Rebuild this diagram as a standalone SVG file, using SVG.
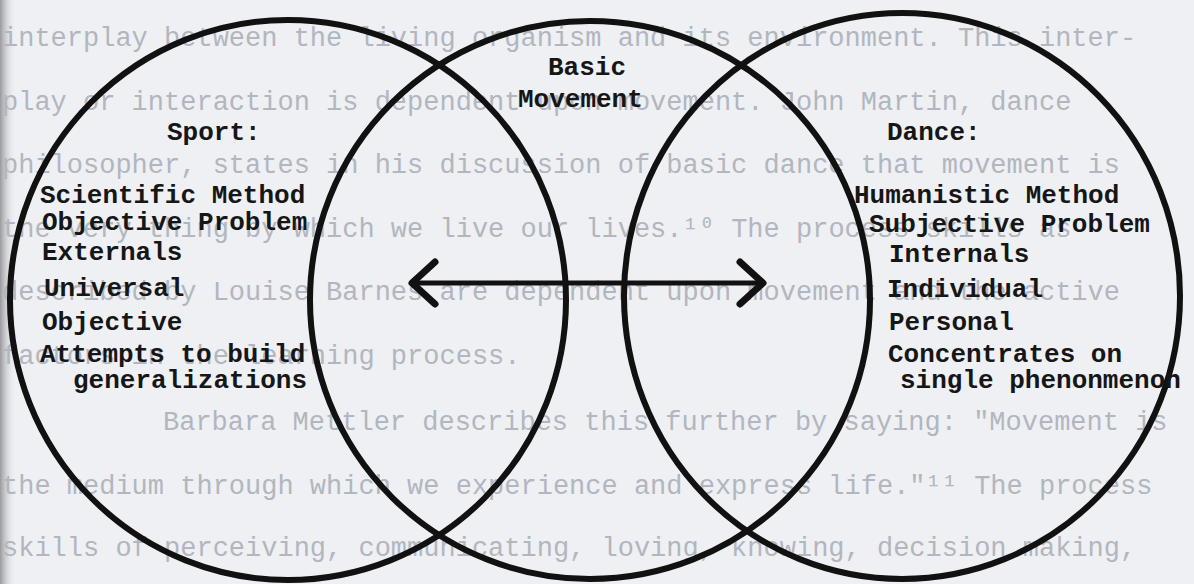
<svg xmlns="http://www.w3.org/2000/svg" width="1194" height="584" viewBox="0 0 1194 584">
<defs>
<linearGradient id="edge" x1="0" y1="0" x2="1" y2="0">
<stop offset="0" stop-color="#9a9a9e"/>
<stop offset="1" stop-color="#eef0f4" stop-opacity="0"/>
</linearGradient>
<marker id="chev" markerUnits="userSpaceOnUse" markerWidth="40" markerHeight="50" viewBox="-30 -25 40 50" refX="0" refY="0" orient="auto-start-reverse" overflow="visible">
<path d="M-23,-21 L0,0 L-23,21" fill="none" stroke="#111" stroke-width="7" stroke-linecap="round" stroke-linejoin="round"/>
</marker>
<style>
.page{font-family:"Liberation Mono",monospace;font-size:27px;fill:#b2b6be;}
.lbl{font-family:"Liberation Mono",monospace;font-size:26px;font-weight:bold;fill:#161616;}
.ring{fill:none;stroke:#111;stroke-width:6;}
.arrow{fill:none;stroke:#111;stroke-width:5;}
</style>
</defs>
<rect width="1194" height="584" fill="#eef0f4"/>
<rect width="16" height="584" fill="url(#edge)"/>
<g id="page-text" class="page">
<text x="2" y="46">interplay between the living organism and its environment.  This inter-</text>
<text x="2" y="110">play or interaction is dependent upon movement.  John Martin, dance</text>
<text x="2" y="173">philosopher, states in his discussion of basic dance that movement is</text>
<text x="2" y="237">the very thing by which we live our lives.¹⁰  The process skills as</text>
<text x="2" y="300">described by Louise Barnes are dependent upon movement and the active</text>
<text x="2" y="364">factors in the learning process.</text>
<text x="163" y="430">Barbara Mettler describes this further by saying:  "Movement is</text>
<text x="2" y="494">the medium through which we experience and express life."¹¹  The process</text>
<text x="2" y="556">skills of perceiving, communicating, loving, knowing, decision making,</text>
</g>
<g id="sport">
<ellipse class="ring" cx="288" cy="300" rx="278" ry="280"/>
<text class="lbl" x="167" y="140">Sport:</text>
<text class="lbl" x="40" y="203">Scientific Method</text>
<text class="lbl" x="42" y="230">Objective Problem</text>
<text class="lbl" x="42" y="260">Externals</text>
<text class="lbl" x="44" y="296">Universal</text>
<text class="lbl" x="42" y="330">Objective</text>
<text class="lbl" x="40" y="362">Attempts to build</text>
<text class="lbl" x="73" y="388">generalizations</text>
</g>
<g id="basic-movement">
<ellipse class="ring" cx="590" cy="300" rx="280" ry="279"/>
<text class="lbl" x="548" y="75">Basic</text>
<text class="lbl" x="518" y="107">Movement</text>
</g>
<g id="dance">
<ellipse class="ring" cx="902" cy="296" rx="278" ry="283"/>
<text class="lbl" x="887" y="140">Dance:</text>
<text class="lbl" x="854" y="203">Humanistic Method</text>
<text class="lbl" x="869" y="232">Subjective Problem</text>
<text class="lbl" x="889" y="262">Internals</text>
<text class="lbl" x="887" y="297">Individual</text>
<text class="lbl" x="889" y="330">Personal</text>
<text class="lbl" x="888" y="362">Concentrates on</text>
<text class="lbl" x="900" y="388">single phenonmenon</text>
</g>
<g id="connectors">
<path class="arrow" d="M412,283 L763,283" marker-start="url(#chev)" marker-end="url(#chev)"/>
</g>
</svg>
